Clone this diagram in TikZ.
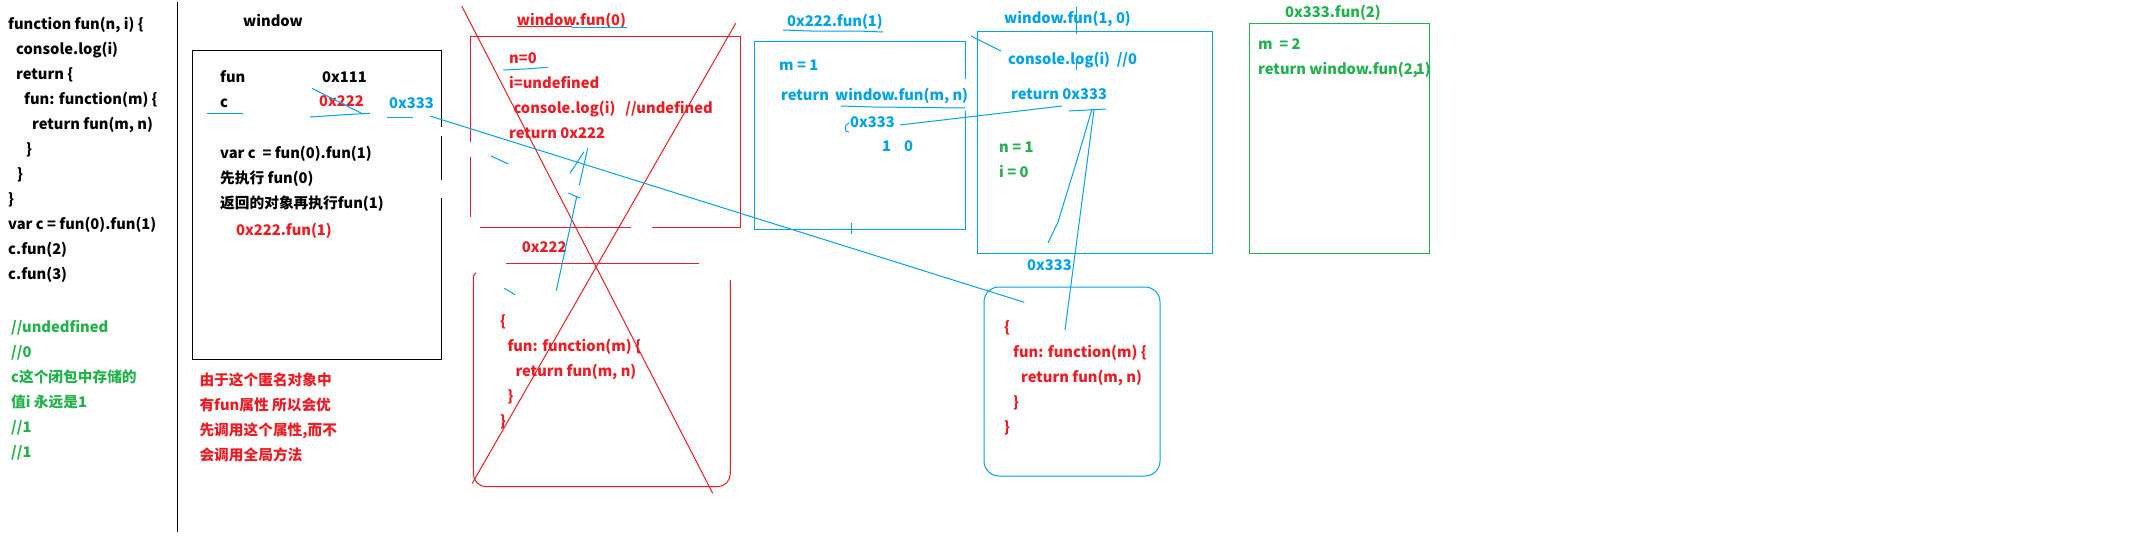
\documentclass[tikz,border=0pt]{standalone}
\usepackage{fontspec}
\setmainfont{Noto Sans CJK SC}
\definecolor{pr}{HTML}{ED1C24}
\definecolor{pb}{HTML}{00A2E8}
\definecolor{pg}{HTML}{22B14C}
\newcommand{\fs}{\fontsize{14.7}{25}\selectfont\bfseries}
\tikzset{
  txt/.style={anchor=base west, inner sep=0pt, font=\fs, align=left},
  ln/.style={line width=1pt},
}
\begin{document}
\begin{tikzpicture}[x=1pt,y=-1pt]
\useasboundingbox[fill=white] (0,0) rectangle (2130,538);
% left code (anchor = baseline of last line)
\node[txt] (code) at (8,279.3) {function fun(n, i) \{\\
\hspace*{8pt}console.log(i)\\
\hspace*{8pt}return \{\\
\hspace*{16pt}fun: function(m) \{\\
\hspace*{24pt}return fun(m, n)\\
\hspace*{18pt}\}\\
\hspace*{9pt}\}\\
\}\\
var c = fun(0).fun(1)\\
c.fun(2)\\
c.fun(3)};
\node[txt,text=pg] (notes) at (11,457.5) {//undedfined\\
//0\\
c这个闭包中存储的\\
值i 永远是1\\
//1\\
//1};
\draw[ln] (177.3,2) -- (177.3,532);
% window box
\node[txt] (wlabel) at (243,26.7) {window};
\draw[ln] (441.3,136) -- (441.3,180);
\draw[ln] (441.3,198) -- (441.3,359) -- (192.7,359) -- (192.7,50) -- (441.3,50) -- (441.3,127);
\node[txt] (wfun) at (220,82.7) {fun};
\node[txt] (w111) at (322,82.7) {0x111};
\node[txt] (wc) at (220,107.3) {c};
\node[txt,text=pr] (w222) at (319,106.7) {0x222};
\node[txt,text=pb] (w333) at (389,108.7) {0x333};
\node[txt] (wvar) at (220,208.3) {var c\ \ = fun(0).fun(1)\\
先执行 fun(0)\\
返回的对象再执行fun(1)};
\node[txt,text=pr] (wcall) at (236,235) {0x222.fun(1)};
\node[txt,text=pr] (wnote) at (199.3,460) {由于这个匿名对象中\\
有fun属性 所以会优\\
先调用这个属性,而不\\
会调用全局方法};
\draw[ln,pb] (207,113.3) -- (243,113.3);
\draw[ln,pb] (310,117) -- (340,115) -- (370,113.3);
\draw[ln,pb] (312,88.3) -- (363,114);
\draw[ln,pb] (387,117) -- (413,117);
% window.fun(0)
\node[txt,text=pr] (f0) at (516.7,25.5) {window.fun(0)};
\draw[ln,pr] (516.7,26) -- (571.7,26);
\draw[ln,pb] (571.7,27.3) -- (626.7,27.3);
\draw[ln,pr] (470.7,141.7) -- (470.7,36.7) -- (740.3,36.7) -- (740.3,227.3) -- (652,227.3);
\draw[ln,pr] (630.7,227.3) -- (480,227.3);
\draw[ln,pr] (470.7,156.7) -- (470.7,216.7);
\node[txt,text=pr] (f0body) at (509,138.3) {n=0\\
i=undefined\\
\hspace*{4.3pt}console.log(i)\ \ \ //undefined\\
return 0x222};
\draw[ln,pb] (503.3,70) -- (525,69) -- (547.7,67.3);
\node[txt,text=pr] (o222) at (521.7,252) {0x222};
\draw[ln,pr] (506,263.3) -- (698.7,263.3);
\draw[ln,pr] (476,272.7) -- (473.3,276);
\draw[ln,pr,rounded corners=13] (473.3,276) -- (473.3,486.7) -- (730.3,486.7) -- (730.3,280);
\node[txt,text=pr] (obj1) at (500,426) {\{\\
\hspace*{7.3pt}fun: function(m) \{\\
\hspace*{15.3pt}return fun(m, n)\\
\hspace*{7.3pt}\}\\
\}};
\draw[ln,pr] (461.7,6) -- (712.7,493.3);
\draw[ln,pr] (735.7,23.3) -- (472.3,483.3);
\draw[ln,pb] (570,173.3) -- (584,151.7);
\draw[ln,pb] (587.7,148.3) -- (579.3,185);
\draw[ln,pb] (576.7,196.7) -- (556.3,290.7);
\draw[ln,pb] (491,156) -- (508.3,164);
\draw[ln,pb] (504.3,288.3) -- (515,294.7);
\draw[ln,pb] (568.3,193) -- (580,198);
% 0x222.fun(1)
\node[txt,text=pb] (f1) at (787,26) {0x222.fun(1)};
\draw[ln,pb] (783,30) -- (810,31) -- (858,31) -- (883,32);
\draw[ln,pb] (965,79) -- (965,41) -- (754,41) -- (754,229.3) -- (965,229.3) -- (965,111);
\draw[ln,pb] (851,223) -- (851,234);
\node[txt,text=pb] (m1) at (779,70) {m = 1};
\node[txt,text=pb] (ret1) at (781,100) {return};
\node[txt,text=pb] (wfmn) at (835,100) {window.fun(m, n)};
\draw[ln,pb] (841,106) -- (873,107) -- (965,108);
\node[txt,text=pb] (r333) at (850,127.7) {0x333};
\draw[ln,pb] (849,123) .. controls (844,124) and (844,133) .. (849,132);
\node[txt,text=pb] (one) at (882,151.7) {1};
\node[txt,text=pb] (zero) at (904,151.7) {0};
% window.fun(1, 0)
\node[txt,text=pb] (f10) at (1004,23.3) {window.fun(1, 0)};
\draw[ln,pb] (977,31) rectangle (1212,253);
\draw[ln,pb] (1076,7) -- (1076,34);
\draw[ln,pb] (1076,60) -- (1076,70);
\draw[ln,pb] (971,36) -- (1001,51);
\node[txt,text=pb] (clog) at (1008,64.3) {console.log(i)\ \ //0};
\node[txt,text=pb] (ret333) at (1011,99) {return 0x333};
\draw[ln,pb] (1069,111) -- (1106,109);
\node[txt,text=pg] (n1) at (999,177.7) {n = 1\\ i = 0};
\node[txt,text=pb] (b333) at (1027,270) {0x333};
\draw[ln,pb] (1092,109) -- (1077,160) -- (1058,222) -- (1048,243);
\draw[ln,pb] (1094,110) -- (1065,330);
\coordinate (a) at (900,125);
\coordinate (b) at (1062,106);
\draw[ln,pb] (a) -- (b);
% anonymous object 0x333
\draw[ln,pb,rounded corners=15] (984,287) rectangle (1160,476);
\node[txt,text=pr] (obj2) at (1004,432) {\{\\
\hspace*{9pt}fun: function(m) \{\\
\hspace*{17pt}return fun(m, n)\\
\hspace*{9pt}\}\\
\}};
\coordinate (s) at (430,116);
\coordinate (e) at (1024.3,302.3);
\draw[ln,pb] (s) -- (e);
% 0x333.fun(2)
\node[txt,text=pg] (f2) at (1285,17.3) {0x333.fun(2)};
\draw[ln,pg] (1249,23) rectangle (1429,253);
\node[txt,text=pg] (m2) at (1258,74) {m\ \ = 2\\ return window.fun(2,\kern-2pt1)};
\end{tikzpicture}
\end{document}
